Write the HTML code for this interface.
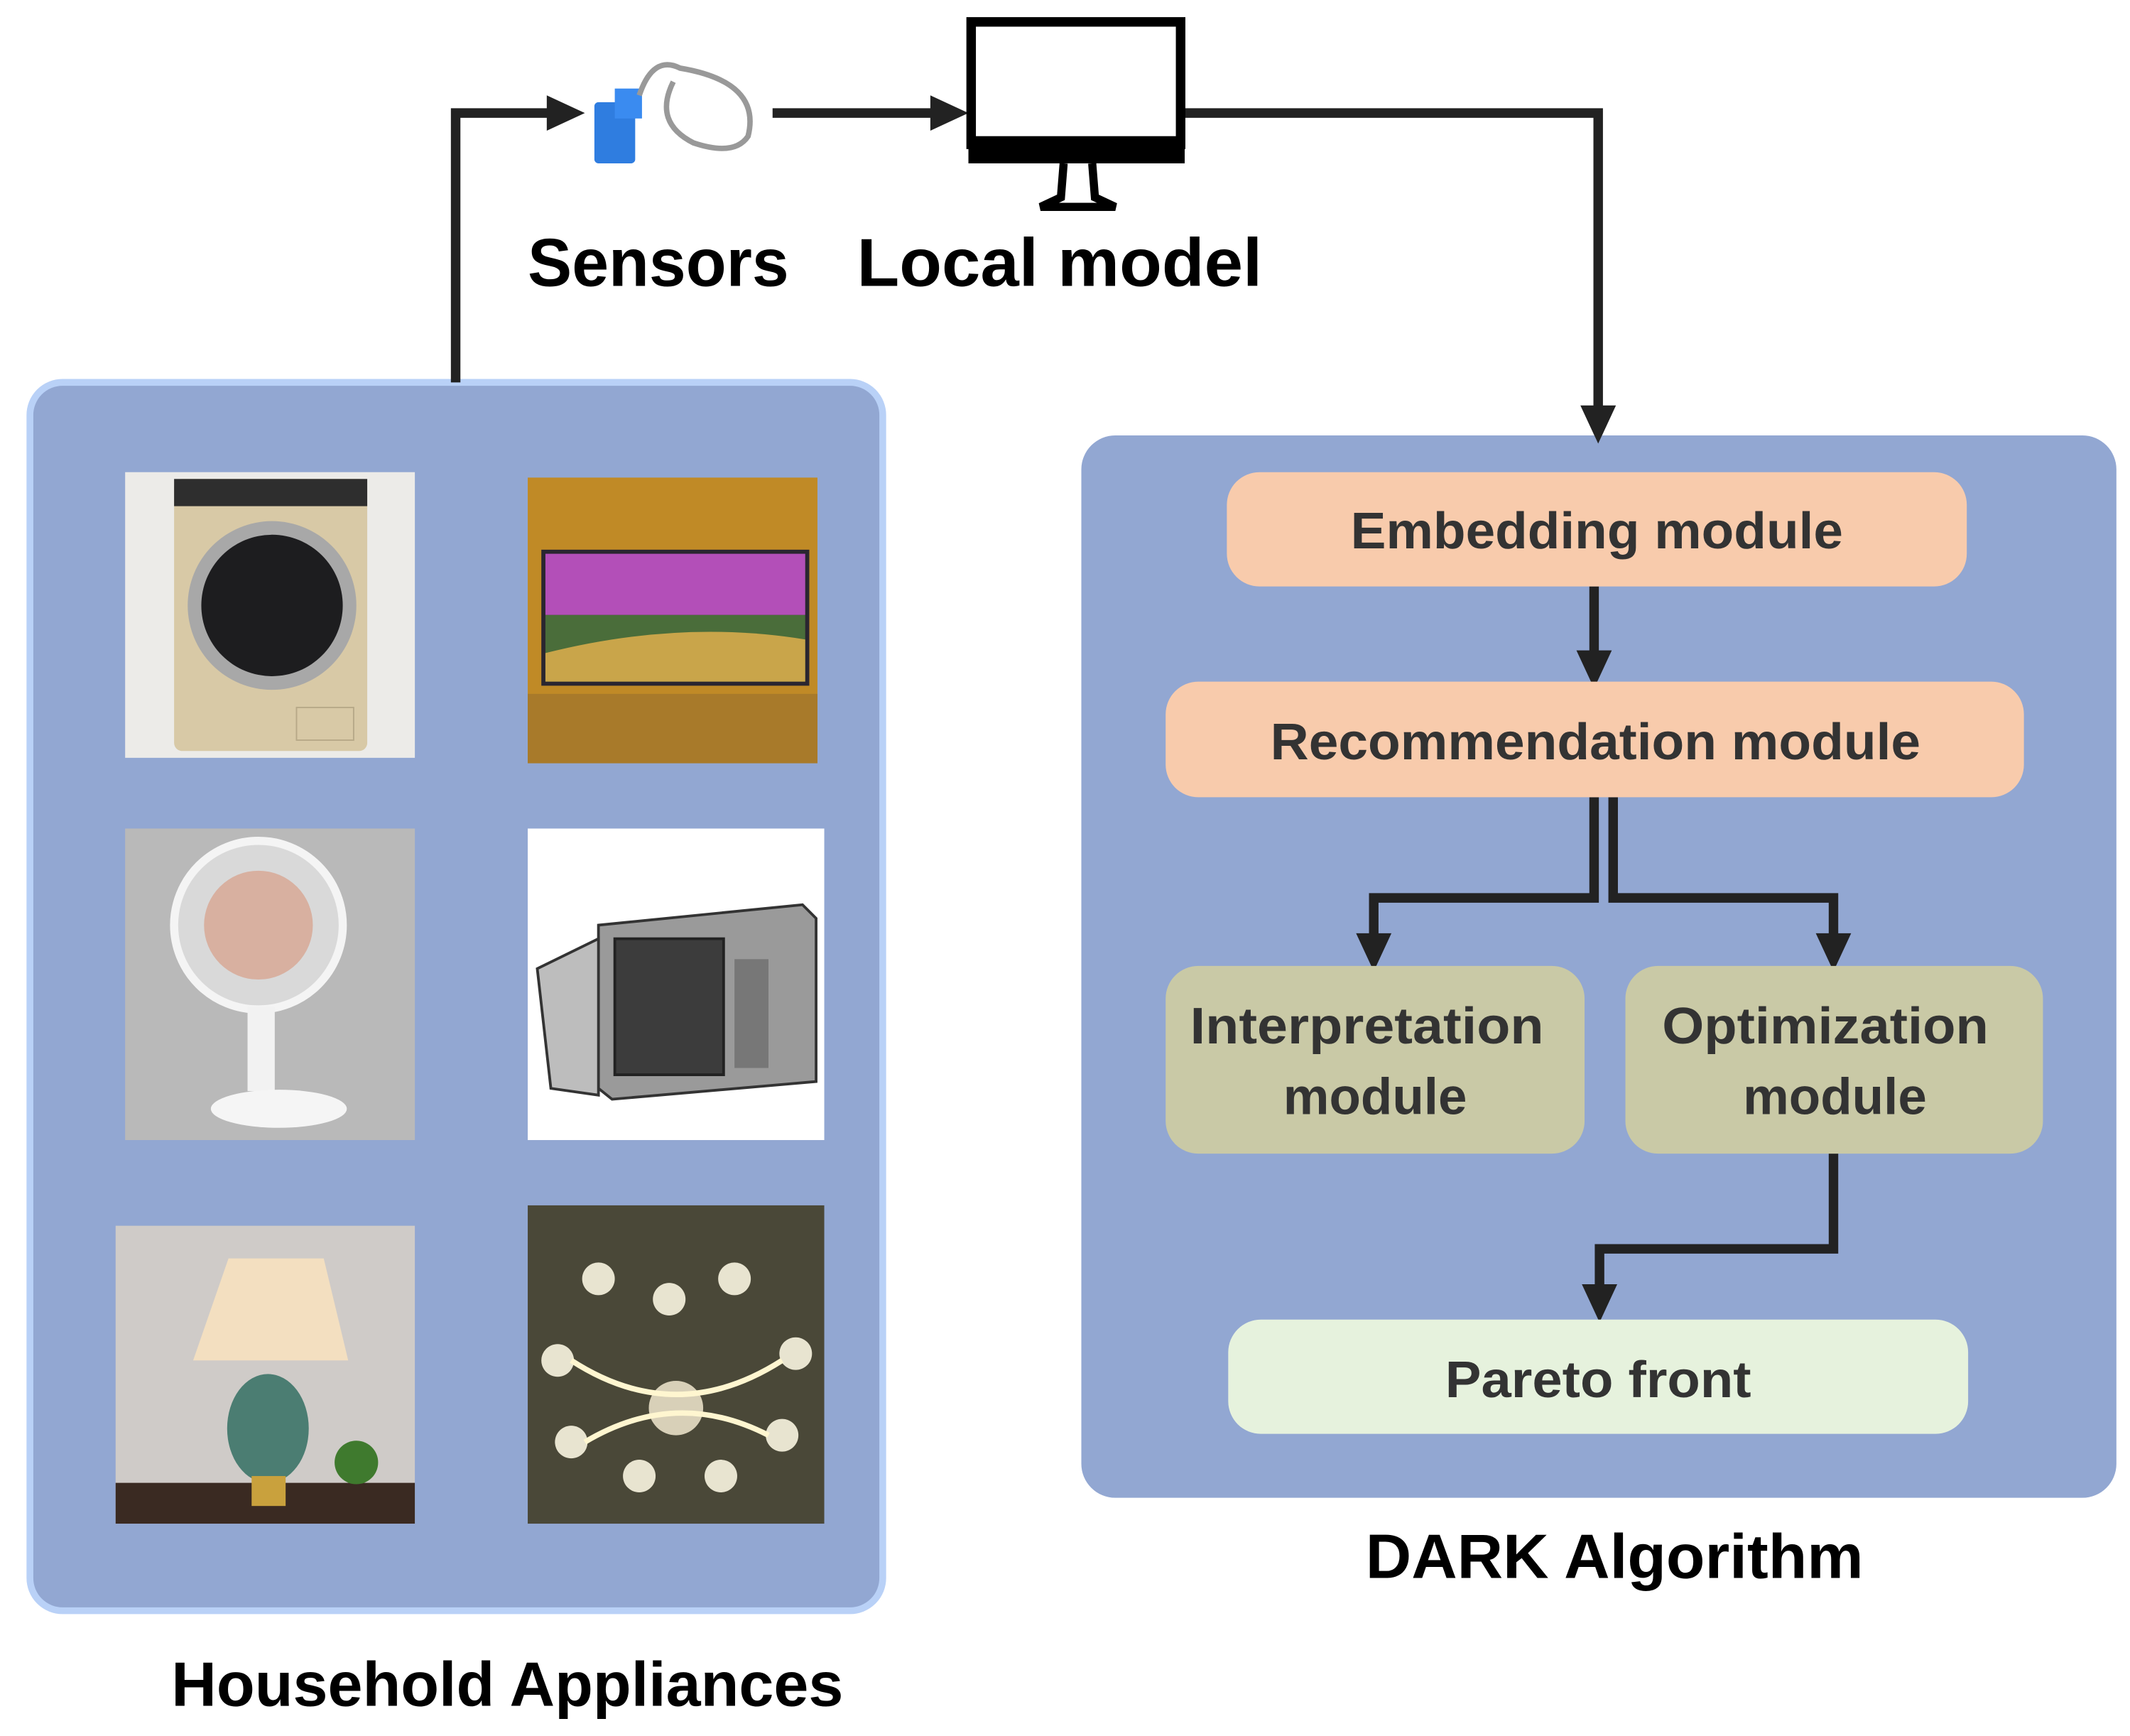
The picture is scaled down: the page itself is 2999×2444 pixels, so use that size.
<!DOCTYPE html>
<html><head><meta charset="utf-8"><style>html,body{margin:0;padding:0;background:#fff}svg{display:block}</style></head>
<body>
<svg width="2999" height="2444" viewBox="0 0 1566 1276" xmlns="http://www.w3.org/2000/svg" font-family="Liberation Sans, sans-serif" font-weight="bold">
<defs>
<marker id="ah" markerWidth="10" markerHeight="10" refX="5" refY="5" orient="auto" markerUnits="userSpaceOnUse" viewBox="0 0 10 10">
</marker>
</defs>
<!-- left panel -->
<rect x="22" y="281" width="627" height="903" rx="24" fill="#92a7d2" stroke="#b9d1f7" stroke-width="5"/>
<!-- washing machine -->
<rect x="92" y="347" width="213" height="210" fill="#ecebe8"/>
<rect x="128" y="352" width="142" height="200" rx="6" fill="#d8c9a6"/>
<rect x="128" y="352" width="142" height="20" fill="#2e2e2e"/>
<circle cx="200" cy="445" r="62" fill="#a8a8a8"/><circle cx="200" cy="445" r="52" fill="#1d1d1f"/>
<rect x="218" y="520" width="42" height="24" fill="none" stroke="#b7a988"/>
<!-- TV -->
<rect x="388" y="351" width="213" height="210" fill="#c08a26"/>
<rect x="388" y="510" width="213" height="51" fill="#a87a2a"/>
<rect x="398" y="404" width="197" height="100" fill="#2a2630"/>
<rect x="401" y="407" width="191" height="45" fill="#b34fb8"/>
<rect x="401" y="452" width="191" height="49" fill="#4a6d3a"/>
<path d="M401 480 Q500 455 592 470 L592 501 L401 501Z" fill="#c9a54a"/>
<!-- fan -->
<rect x="92" y="609" width="213" height="229" fill="#b9b9b9"/>
<circle cx="190" cy="680" r="62" fill="#d9d9d9" stroke="#f4f4f4" stroke-width="6"/>
<circle cx="190" cy="680" r="40" fill="#d8b0a0"/>
<rect x="182" y="740" width="20" height="62" fill="#f2f2f2"/>
<ellipse cx="205" cy="815" rx="50" ry="14" fill="#f5f5f5"/>
<!-- microwave -->
<rect x="388" y="609" width="218" height="229" fill="#fff"/>
<path d="M440 680 L590 665 L600 675 L600 795 L450 808 L440 800Z" fill="#9a9a9a" stroke="#333" stroke-width="2"/>
<rect x="452" y="690" width="80" height="100" fill="#3c3c3c" stroke="#222" stroke-width="2"/>
<path d="M395 712 L440 690 L440 805 L405 800Z" fill="#bdbdbd" stroke="#333" stroke-width="2"/>
<rect x="540" y="705" width="25" height="80" fill="#777"/>
<!-- lamp -->
<rect x="85" y="901" width="220" height="219" fill="#cfcbc8"/>
<rect x="85" y="1090" width="220" height="30" fill="#3a2a22"/>
<path d="M168 925 L238 925 L256 1000 L142 1000Z" fill="#f3dfc0"/>
<ellipse cx="197" cy="1050" rx="30" ry="40" fill="#4b7d72"/>
<rect x="185" y="1085" width="25" height="22" fill="#c9a13d"/>
<circle cx="262" cy="1075" r="16" fill="#3f7a2e"/>
<!-- chandelier -->
<rect x="388" y="886" width="218" height="234" fill="#4a4838"/>
<g fill="#e8e4d0">
<circle cx="440" cy="940" r="12"/><circle cx="492" cy="955" r="12"/><circle cx="540" cy="940" r="12"/>
<circle cx="410" cy="1000" r="12"/><circle cx="585" cy="995" r="12"/><circle cx="420" cy="1060" r="12"/>
<circle cx="575" cy="1055" r="12"/><circle cx="470" cy="1085" r="12"/><circle cx="530" cy="1085" r="12"/>
<circle cx="497" cy="1035" r="20" fill="#d8d0b8"/>
</g>
<path d="M420 1000 Q497 1050 575 1000 M430 1060 Q497 1020 565 1055" stroke="#fff6d0" stroke-width="4" fill="none"/>
<!-- arrows top -->
<g stroke="#222" stroke-width="7" fill="none">
<polyline points="335,281 335,83 410,83"/>
<line x1="568" y1="83" x2="692" y2="83"/>
<polyline points="870,83 1175,83 1175,305"/>
<line x1="1172" y1="431" x2="1172" y2="485"/>
<polyline points="1172,586 1172,660 1010,660 1010,693"/>
<polyline points="1186,586 1186,660 1348,660 1348,693"/>
<polyline points="1348,848 1348,918 1176,918 1176,950"/>
</g>
<g fill="#222">
<polygon points="430,83 402,70 402,96"/>
<polygon points="712,83 684,70 684,96"/>
<polygon points="1175,326 1162,298 1188,298"/>
<polygon points="1172,506 1159,478 1185,478"/>
<polygon points="1010,714 997,686 1023,686"/>
<polygon points="1348,714 1335,686 1361,686"/>
<polygon points="1176,972 1163,944 1189,944"/>
</g>
<!-- sensor -->
<rect x="437" y="75" width="30" height="45" rx="3" fill="#2f7de0"/>
<rect x="452" y="65" width="20" height="22" fill="#3a8bf0"/>
<path d="M470 70 Q480 40 500 50 Q560 60 550 100 Q540 115 510 105 Q480 90 495 60" stroke="#999" stroke-width="4" fill="none"/>
<!-- monitor -->
<rect x="714" y="16" width="154" height="90" fill="#fff" stroke="#000" stroke-width="7"/>
<rect x="712" y="100" width="159" height="20" fill="#000"/>
<path d="M782 120 L780 145 L765 152 L820 152 L805 145 L803 120" stroke="#000" stroke-width="6" fill="none"/>
<!-- labels top -->
<text x="388" y="210" font-size="50" textLength="192" lengthAdjust="spacingAndGlyphs">Sensors</text>
<text x="630" y="210" font-size="50" textLength="298" lengthAdjust="spacingAndGlyphs">Local model</text>
<!-- right panel -->
<rect x="795" y="320" width="761" height="781" rx="25" fill="#92a7d2"/>
<g stroke="#222" stroke-width="7" fill="none">
<line x1="1172" y1="431" x2="1172" y2="485"/>
<polyline points="1172,586 1172,660 1010,660 1010,693"/>
<polyline points="1186,586 1186,660 1348,660 1348,693"/>
<polyline points="1348,848 1348,918 1176,918 1176,950"/>
</g>
<g fill="#222">
<polygon points="1175,326 1162,298 1188,298"/>
<polygon points="1172,506 1159,478 1185,478"/>
<polygon points="1010,714 997,686 1023,686"/>
<polygon points="1348,714 1335,686 1361,686"/>
<polygon points="1176,972 1163,944 1189,944"/>
</g>
<rect x="902" y="347" width="544" height="84" rx="24" fill="#f8cbac"/>
<rect x="857" y="501" width="631" height="85" rx="24" fill="#f8cbac"/>
<rect x="857" y="710" width="308" height="138" rx="24" fill="#c9c9a6"/>
<rect x="1195" y="710" width="307" height="138" rx="24" fill="#c9c9a6"/>
<rect x="903" y="970" width="544" height="84" rx="24" fill="#e6f2dd"/>
<g font-size="38" fill="#333" text-anchor="middle">
<text x="1174" y="403" textLength="362" lengthAdjust="spacingAndGlyphs">Embedding module</text>
<text x="1173" y="558" textLength="478" lengthAdjust="spacingAndGlyphs">Recommendation module</text>
<text x="1005" y="767" textLength="260" lengthAdjust="spacingAndGlyphs">Interpretation</text>
<text x="1011" y="819">module</text>
<text x="1342" y="767" textLength="240" lengthAdjust="spacingAndGlyphs">Optimization</text>
<text x="1349" y="819">module</text>
<text x="1175" y="1027" textLength="225" lengthAdjust="spacingAndGlyphs">Pareto front</text>
</g>
<text x="1187" y="1160" font-size="46" text-anchor="middle" fill="#000" textLength="366" lengthAdjust="spacingAndGlyphs">DARK Algorithm</text>
<text x="373" y="1254" font-size="46" text-anchor="middle" fill="#000" textLength="494" lengthAdjust="spacingAndGlyphs">Household Appliances</text>
</svg>
</body></html>
